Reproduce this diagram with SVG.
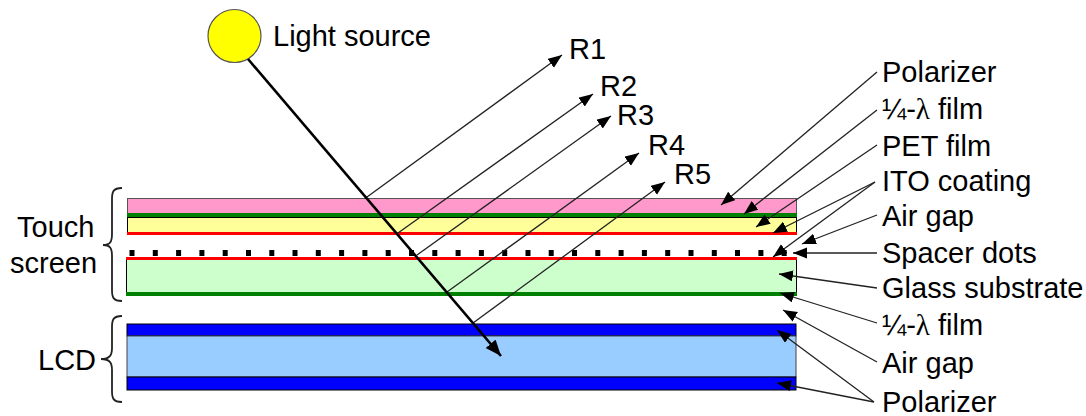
<svg xmlns="http://www.w3.org/2000/svg" width="1086" height="416" viewBox="0 0 1086 416">
<style>
text{font-family:"Liberation Sans",Arial,sans-serif;font-size:29px;fill:#000}
.s{font-family:"Liberation Serif",serif}
.c{fill:none;stroke:#222;stroke-width:1.3}
.b{fill:none;stroke:#222;stroke-width:1.8}
.d{fill:#000}
</style>
<defs>
<marker id="a" markerUnits="userSpaceOnUse" markerWidth="15" markerHeight="12" refX="14" refY="5.500" orient="auto"><path d="M0 0L14 5.500L0 11Z" fill="#000"/></marker>
<marker id="a2" markerUnits="userSpaceOnUse" markerWidth="17" markerHeight="14" refX="16" refY="6.500" orient="auto"><path d="M0 0L16 6.500L0 13Z" fill="#000"/></marker>
</defs>
<rect width="1086" height="416" fill="#fff"/>
<g id="touch-screen">
<rect x="127.500" y="198.500" width="669" height="16" fill="#ff99cc" stroke="#555" stroke-width="1"/>
<rect x="127" y="213" width="670" height="4" fill="#008000"/>
<rect x="127.500" y="217.500" width="669" height="16" fill="#ffff99" stroke="#000" stroke-width="1"/>
<rect x="127" y="232" width="670" height="3" fill="#ff0000"/>
<rect x="126.500" y="258.500" width="670" height="36" fill="#ccffcc" stroke="#000" stroke-width="1"/>
<rect x="126" y="257" width="671" height="3" fill="#ff0000"/>
<rect x="126" y="292" width="671" height="4" fill="#008000"/>
</g>
<g id="spacer-dots" class="d">
<rect x="129.500" y="250" width="5" height="6"/><rect x="152.800" y="250" width="5" height="6"/><rect x="176.100" y="250" width="5" height="6"/><rect x="199.400" y="250" width="5" height="6"/><rect x="222.700" y="250" width="5" height="6"/><rect x="246" y="250" width="5" height="6"/><rect x="269.300" y="250" width="5" height="6"/><rect x="292.500" y="250" width="5" height="6"/><rect x="315.800" y="250" width="5" height="6"/><rect x="339.100" y="250" width="5" height="6"/><rect x="362.400" y="250" width="5" height="6"/><rect x="385.700" y="250" width="5" height="6"/><rect x="409" y="250" width="5" height="6"/><rect x="432.300" y="250" width="5" height="6"/><rect x="455.600" y="250" width="5" height="6"/><rect x="478.900" y="250" width="5" height="6"/><rect x="502.200" y="250" width="5" height="6"/><rect x="525.500" y="250" width="5" height="6"/><rect x="548.700" y="250" width="5" height="6"/><rect x="572" y="250" width="5" height="6"/><rect x="595.300" y="250" width="5" height="6"/><rect x="618.600" y="250" width="5" height="6"/><rect x="641.900" y="250" width="5" height="6"/><rect x="665.200" y="250" width="5" height="6"/><rect x="688.500" y="250" width="5" height="6"/><rect x="711.800" y="250" width="5" height="6"/><rect x="735" y="250" width="5" height="6"/><rect x="758.400" y="250" width="5" height="6"/><rect x="781.700" y="250" width="5" height="6"/>
</g>
<g id="lcd">
<rect x="127" y="324" width="669" height="12" fill="#0000ff" stroke="#000" stroke-width="1"/>
<rect x="127" y="336" width="669" height="41" fill="#99ccff" stroke="#444" stroke-width="1"/>
<rect x="127" y="377" width="669" height="13" fill="#0000ff" stroke="#000" stroke-width="1"/>
</g>
<g id="light-source">
<circle cx="234.500" cy="36" r="26.500" fill="#ffff00" stroke="#555" stroke-width="1.200"/>
<text x="273" y="46">Light source</text>
</g>
<g id="connectors">
<path class="c" marker-end="url(#a)" d="M367 197L562 55"/>
<path class="c" marker-end="url(#a)" d="M398 233L593 94"/>
<path class="c" marker-end="url(#a)" d="M417 255L611 116"/>
<path class="c" marker-end="url(#a)" d="M447 292L639 153"/>
<path class="c" marker-end="url(#a)" d="M473 323L665 182"/>
<path stroke="#000" stroke-width="2.600" fill="none" marker-end="url(#a2)" d="M248 59L501 356"/>
<path class="c" marker-end="url(#a)" d="M877 72L721 205"/>
<path class="c" marker-end="url(#a)" d="M877 110L744 214"/>
<path class="c" marker-end="url(#a)" d="M877 145L756 227"/>
<path class="c" marker-end="url(#a)" d="M875 182L773 233"/>
<path class="c" marker-end="url(#a)" d="M875 182L773 257"/>
<path class="c" marker-end="url(#a)" d="M877 215L802 244"/>
<path class="c" marker-end="url(#a)" d="M877 253L793 253"/>
<path class="c" marker-end="url(#a)" d="M877 288L779 274"/>
<path class="c" marker-end="url(#a)" d="M877 323L780 293"/>
<path class="c" marker-end="url(#a)" d="M877 362L783 310"/>
<path class="c" marker-end="url(#a)" d="M874 402L777 330"/>
<path class="c" marker-end="url(#a)" d="M874 402L777 383"/>
</g>
<g id="braces">
<path class="b" d="M122 188C113 188 112 192 112 199L112 234C112 242 110 245 103 245C110 245 112 248 112 256L112 290C112 297 113 301 122 301"/>
<path class="b" d="M122 316C113 316 112 320 112 327L112 348C112 355 110 359 101 359C110 359 112 363 112 370L112 391C112 398 113 402 122 402"/>
</g>
<g id="labels">
<text x="17" y="237">Touch</text>
<text x="10" y="273">screen</text>
<text x="38" y="370">LCD</text>
<text x="569" y="59">R1</text>
<text x="600" y="96">R2</text>
<text x="617" y="125">R3</text>
<text x="648" y="155">R4</text>
<text x="674" y="184">R5</text>
<text x="882" y="82">Polarizer</text>
<text x="882" y="119">¼-<tspan class="s">λ</tspan> film</text>
<text x="882" y="156">PET film</text>
<text x="882" y="191">ITO coating</text>
<text x="882" y="226">Air gap</text>
<text x="882" y="263">Spacer dots</text>
<text x="882" y="298">Glass substrate</text>
<text x="882" y="335">¼-<tspan class="s">λ</tspan> film</text>
<text x="882" y="373">Air gap</text>
<text x="882" y="412">Polarizer</text>
</g>
</svg>
